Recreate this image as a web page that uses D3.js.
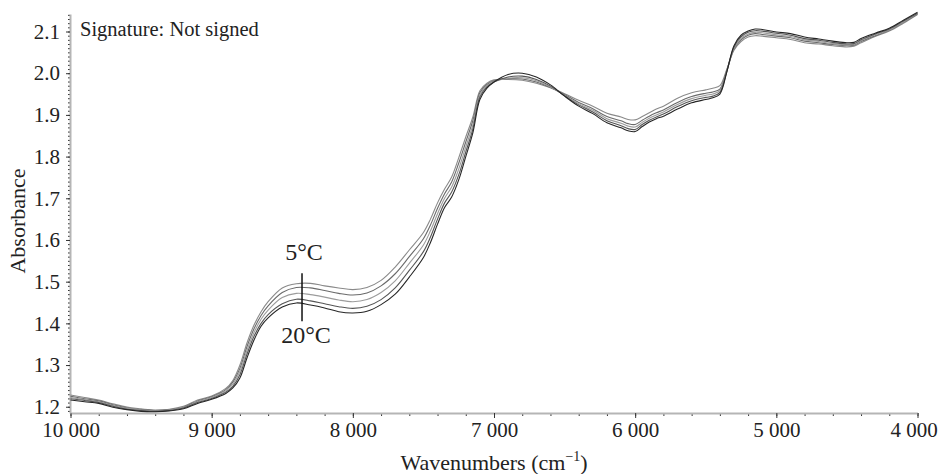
<!DOCTYPE html>
<html>
<head>
<meta charset="utf-8">
<script src="https://cdn.jsdelivr.net/npm/d3@7"></script>
<style>
  body { margin: 0; background: #fff; }
  svg { display: block; font-family: "Liberation Serif", "Times New Roman", serif; }
</style>
</head>
<body>
<svg id="chart" width="940" height="474"></svg>
<script>
// wavenumber grid (cm-1), shared by every spectrum
const WAVENUMBERS = [10000, 9900, 9800, 9700, 9600, 9500, 9400, 9300, 9200, 9100, 9000, 8900, 8850, 8800, 8750, 8700, 8650, 8600, 8500, 8400,
  8300, 8200, 8100, 8000, 7900, 7800, 7700, 7600, 7500, 7450, 7400, 7350, 7300, 7250, 7200, 7150, 7100, 7050, 7000, 6900,
  6800, 6700, 6600, 6500, 6400, 6300, 6200, 6100, 6050, 6000, 5950, 5900, 5850, 5800, 5700, 5600, 5500, 5450, 5400, 5350,
  5300, 5250, 5200, 5150, 5100, 5000, 4900, 4800, 4700, 4600, 4500, 4450, 4400, 4300, 4200, 4100, 4000];

// spectra, top (5°C) to bottom (20°C) at the 8400 band
const SPECTRUM_1 = [1.228, 1.222, 1.216, 1.207, 1.199, 1.195, 1.192, 1.194, 1.201, 1.216, 1.226, 1.244, 1.263, 1.300, 1.353, 1.396, 1.428, 1.452, 1.485, 1.495,
  1.496, 1.490, 1.485, 1.481, 1.486, 1.503, 1.535, 1.576, 1.618, 1.650, 1.689, 1.722, 1.751, 1.797, 1.847, 1.895, 1.958, 1.976, 1.984, 1.985,
  1.983, 1.976, 1.965, 1.951, 1.935, 1.921, 1.904, 1.895, 1.889, 1.888, 1.896, 1.905, 1.914, 1.921, 1.940, 1.953, 1.960, 1.964, 1.970, 2.010,
  2.055, 2.076, 2.087, 2.090, 2.089, 2.085, 2.081, 2.073, 2.070, 2.066, 2.063, 2.065, 2.073, 2.088, 2.101, 2.120, 2.141];
const SPECTRUM_2 = [1.225, 1.219, 1.214, 1.205, 1.197, 1.193, 1.191, 1.193, 1.199, 1.214, 1.224, 1.241, 1.259, 1.292, 1.344, 1.387, 1.419, 1.442, 1.474, 1.486,
  1.485, 1.479, 1.472, 1.468, 1.473, 1.490, 1.519, 1.560, 1.603, 1.636, 1.676, 1.711, 1.739, 1.784, 1.835, 1.886, 1.953, 1.973, 1.982, 1.987,
  1.986, 1.979, 1.966, 1.949, 1.930, 1.915, 1.896, 1.886, 1.879, 1.877, 1.887, 1.897, 1.905, 1.912, 1.930, 1.944, 1.952, 1.955, 1.962, 2.008,
  2.058, 2.080, 2.091, 2.095, 2.093, 2.089, 2.085, 2.077, 2.073, 2.069, 2.066, 2.067, 2.076, 2.090, 2.103, 2.122, 2.142];
const SPECTRUM_3 = [1.222, 1.217, 1.212, 1.203, 1.196, 1.192, 1.190, 1.192, 1.198, 1.212, 1.222, 1.238, 1.254, 1.285, 1.335, 1.378, 1.410, 1.432, 1.462, 1.472,
  1.469, 1.463, 1.456, 1.452, 1.457, 1.474, 1.502, 1.544, 1.588, 1.622, 1.663, 1.700, 1.727, 1.770, 1.823, 1.876, 1.948, 1.970, 1.980, 1.988,
  1.989, 1.982, 1.967, 1.947, 1.927, 1.911, 1.891, 1.880, 1.873, 1.871, 1.882, 1.892, 1.900, 1.907, 1.925, 1.939, 1.947, 1.950, 1.958, 2.006,
  2.060, 2.083, 2.094, 2.098, 2.097, 2.092, 2.088, 2.080, 2.076, 2.071, 2.068, 2.069, 2.078, 2.092, 2.104, 2.123, 2.143];
const SPECTRUM_4 = [1.219, 1.215, 1.210, 1.201, 1.194, 1.191, 1.189, 1.191, 1.197, 1.210, 1.220, 1.235, 1.249, 1.277, 1.326, 1.369, 1.400, 1.421, 1.447, 1.458,
  1.454, 1.447, 1.440, 1.436, 1.441, 1.457, 1.485, 1.527, 1.572, 1.607, 1.650, 1.689, 1.715, 1.756, 1.811, 1.866, 1.943, 1.967, 1.979, 1.991,
  1.993, 1.985, 1.969, 1.946, 1.924, 1.907, 1.886, 1.874, 1.867, 1.865, 1.877, 1.887, 1.895, 1.902, 1.920, 1.934, 1.942, 1.945, 1.954, 2.005,
  2.063, 2.087, 2.098, 2.102, 2.101, 2.096, 2.091, 2.083, 2.079, 2.074, 2.070, 2.071, 2.080, 2.094, 2.106, 2.125, 2.144];
const SPECTRUM_5 = [1.216, 1.212, 1.208, 1.199, 1.193, 1.189, 1.188, 1.190, 1.195, 1.208, 1.218, 1.232, 1.245, 1.269, 1.317, 1.360, 1.393, 1.413, 1.439, 1.449,
  1.444, 1.437, 1.428, 1.425, 1.429, 1.445, 1.470, 1.511, 1.558, 1.594, 1.638, 1.678, 1.703, 1.744, 1.800, 1.857, 1.937, 1.964, 1.979, 1.997,
  2.000, 1.991, 1.972, 1.945, 1.921, 1.903, 1.881, 1.869, 1.862, 1.860, 1.872, 1.883, 1.891, 1.897, 1.914, 1.929, 1.937, 1.941, 1.950, 2.004,
  2.066, 2.091, 2.101, 2.106, 2.105, 2.099, 2.095, 2.087, 2.082, 2.077, 2.073, 2.074, 2.083, 2.096, 2.108, 2.127, 2.146];

const SPECTRA = [SPECTRUM_1, SPECTRUM_2, SPECTRUM_3, SPECTRUM_4, SPECTRUM_5];
const LINE_COLORS = ["#8a8a8a", "#6a6a6a", "#9c9c9c", "#555555", "#262626"];

const X_TICKS = [10000, 9000, 8000, 7000, 6000, 5000, 4000];
const Y_TICKS = [1.2, 1.3, 1.4, 1.5, 1.6, 1.7, 1.8, 1.9, 2.0, 2.1];

const svg = d3.select("#chart");

const x = d3.scaleLinear().domain([10000, 4000]).range([70.5, 917.5]);
const y = d3.scaleLinear().domain([1.185, 2.142]).range([413, 14]);

const fmtX = d => d3.format(",")(d).replace(",", " ");

// minor ticks
svg.append("g")
    .attr("transform", "translate(0,413)")
    .call(d3.axisBottom(x).tickValues(d3.range(10000, 3999, -200)).tickSize(3).tickFormat(""))
    .call(g => g.select(".domain").remove());
svg.append("g")
    .attr("transform", "translate(70,0)")
    .call(d3.axisLeft(y).tickValues(d3.range(119, 215).map(v => v / 100)).tickSize(2).tickFormat(""))
    .call(g => g.select(".domain").remove());

// major axes
const xAxis = svg.append("g")
    .attr("transform", "translate(0,413)")
    .call(d3.axisBottom(x).tickValues(X_TICKS).tickSize(5).tickPadding(4).tickSizeOuter(0).tickFormat(fmtX));
const yAxis = svg.append("g")
    .attr("transform", "translate(70,0)")
    .call(d3.axisLeft(y).tickValues(Y_TICKS).tickSize(4).tickPadding(6).tickSizeOuter(0).tickFormat(d3.format(".1f")));

svg.selectAll(".tick line").attr("stroke", "#333");
[xAxis, yAxis].forEach(a => {
  a.select(".domain").attr("stroke", "#b5b5b5").attr("stroke-width", 2);
  a.selectAll("text").attr("font-family", "Liberation Serif").attr("font-size", 21).attr("fill", "#222");
});
// keep the last label inside the page
xAxis.selectAll(".tick text").filter(d => d === 4000).attr("dx", -4);

// spectra
const line = d3.line()
    .x((d, i) => x(WAVENUMBERS[i]))
    .y(d => y(d))
    .curve(d3.curveCatmullRom.alpha(0.5));

svg.append("g")
  .selectAll("path")
  .data(SPECTRA)
  .enter()
  .append("path")
    .attr("d", line)
    .attr("fill", "none")
    .attr("stroke", (d, i) => LINE_COLORS[i])
    .attr("stroke-width", 1.1);

// temperature marker
const markX = x(8360);
svg.append("line")
    .attr("x1", markX).attr("x2", markX)
    .attr("y1", y(1.52)).attr("y2", y(1.405))
    .attr("stroke", "#111").attr("stroke-width", 1.5);
svg.append("text")
    .attr("x", markX + 2).attr("y", 260)
    .attr("text-anchor", "middle")
    .attr("font-size", 24).attr("fill", "#222")
    .text("5°C");
svg.append("text")
    .attr("x", markX + 4).attr("y", 343)
    .attr("text-anchor", "middle")
    .attr("font-size", 24).attr("fill", "#222")
    .text("20°C");

// labels
svg.append("text")
    .attr("x", 80).attr("y", 36)
    .attr("font-size", 20.5).attr("fill", "#222")
    .text("Signature: Not signed");

svg.append("text")
    .attr("transform", "translate(25,221) rotate(-90)")
    .attr("text-anchor", "middle")
    .attr("font-size", 22).attr("fill", "#222")
    .text("Absorbance");

const xTitle = svg.append("text")
    .attr("x", x(7000)).attr("y", 470)
    .attr("text-anchor", "middle")
    .attr("font-size", 22).attr("fill", "#222");
xTitle.append("tspan").text("Wavenumbers (cm");
xTitle.append("tspan").attr("font-size", 14).attr("dy", -9).text("\u22121");
xTitle.append("tspan").attr("dy", 9).text(")");
</script>
</body>
</html>
